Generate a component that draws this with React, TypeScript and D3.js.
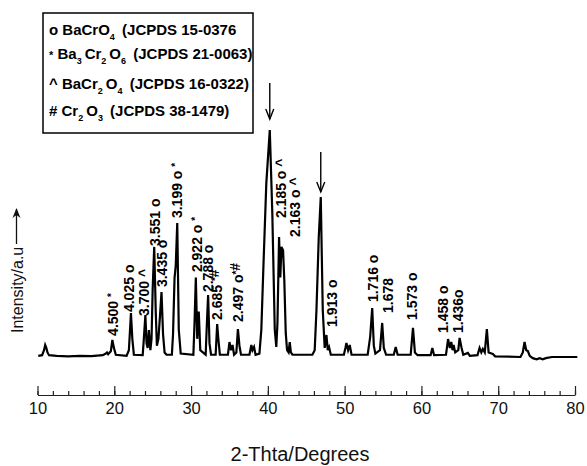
import React, { useRef, useEffect } from 'react';
import * as d3 from 'd3';

// XRD trace: 2-theta (deg) and intensity (a.u., strongest reflection = 100)
const pattern: [number, number][] = [
  [10.1, 0.5], [10.6, 0.8], [10.85, 3], [11.0, 5.3], [11.15, 4], [11.3, 2], [11.5, 0.8],
  [12.5, 0.5], [14, 0.3], [15.5, 0.5], [17, 0.4], [18.5, 0.8], [18.9, 1.5], [19.05, 2],
  [19.2, 1.2], [19.55, 2.5], [19.75, 7.5], [19.95, 4], [20.2, 1], [21.6, 0.5], [21.9, 3],
  [22.05, 12], [22.17, 19.4], [22.35, 8], [22.55, 1], [23.7, 0.8], [23.85, 8], [24.05, 18.5],
  [24.2, 6], [24.35, 4], [24.5, 11.9], [24.7, 3], [24.85, 8], [25.0, 30], [25.2, 48.5],
  [25.4, 20], [25.55, 5], [25.75, 8], [25.95, 18], [26.15, 28.6], [26.35, 10], [26.55, 2],
  [26.8, 1], [27.5, 1], [27.65, 10], [27.85, 35], [28.0, 40], [28.2, 59], [28.4, 12],
  [28.65, 1.5], [30.3, 1], [30.45, 15], [30.62, 35], [30.8, 8], [31.0, 20], [31.2, 3],
  [31.9, 1], [32.05, 14], [32.22, 27.3], [32.4, 6], [32.6, 1], [33.2, 1], [33.4, 14.5],
  [33.55, 8], [33.75, 1], [34.8, 1], [35.0, 6.6], [35.2, 3], [35.4, 5.3], [35.6, 1],
  [35.9, 2], [36.1, 12.3], [36.3, 5], [36.5, 1], [37.6, 1], [37.85, 5.3], [38.0, 3],
  [38.2, 4.4], [38.4, 1], [38.9, 1.5], [39.15, 12], [39.45, 42.7], [39.8, 76.6],
  [40.25, 100], [40.58, 63.4], [40.9, 12], [41.1, 4.4], [41.25, 15], [41.46, 52.9],
  [41.62, 35], [41.77, 48.5], [41.98, 47], [42.14, 34], [42.33, 10.6], [42.5, 3], [42.7, 2],
  [42.85, 6.6], [43.0, 2], [43.2, 1], [45.8, 1], [46.1, 3], [46.33, 20.7], [46.63, 53],
  [46.89, 70.5], [47.15, 20.7], [47.4, 4], [47.63, 9.7], [47.8, 3], [47.97, 4.4], [48.2, 1],
  [49.9, 1], [50.1, 4], [50.23, 6.2], [50.45, 3], [50.66, 5.3], [50.9, 1], [53.0, 1],
  [53.33, 9], [53.59, 21.6], [53.8, 5], [54.0, 1.5], [54.6, 3], [54.89, 15], [55.1, 4],
  [55.4, 1], [56.4, 1], [56.65, 4.4], [56.9, 1], [58.6, 1], [58.9, 12.8], [59.15, 2],
  [59.5, 0.8], [61.2, 0.8], [61.42, 4], [61.65, 0.8], [63.2, 1], [63.47, 7.9], [63.7, 4],
  [63.89, 6.6], [64.05, 3], [64.19, 5.3], [64.4, 2], [64.8, 3], [64.97, 8.4], [65.23, 4],
  [65.45, 1], [66.05, 1.8], [66.3, 0.5], [67.3, 0.8], [67.57, 4], [67.8, 2], [68.0, 3.5],
  [68.25, 2], [68.52, 12.3], [68.75, 2], [69.3, 1.3], [69.6, 0.3], [72.9, 0], [73.2, 2],
  [73.43, 6.6], [73.65, 3], [73.86, 2.6], [74.1, 0.5], [74.5, -0.5], [75.0, -1],
  [75.4, -0.5], [75.8, -1], [76.2, -0.5], [77, 0], [80.3, 0],
];

// d-spacing labels: value, phase marks, 2-theta and intensity where the text starts
const peakLabels = [
  { d: '4.500', mark: ' *', at: 20.47, level: 9.3 },
  { d: '4.025', mark: ' o', at: 22.56, level: 19.8 },
  { d: '3.700', mark: ' ^', at: 24.51, level: 18.1 },
  { d: '3.551', mark: ' o', at: 25.94, level: 48.9 },
  { d: '3.435', mark: ' o', at: 26.85, level: 30.8 },
  { d: '3.199', mark: ' o *', at: 28.8, level: 61.2 },
  { d: '2.922', mark: ' o *', at: 31.4, level: 37.4 },
  { d: '2.788', mark: ' o', at: 32.83, level: 28.6 },
  { d: '2.685', mark: ' *#', at: 34.0, level: 16.3 },
  { d: '2.497', mark: ' o*#', at: 36.74, level: 15.4 },
  { d: '2.185', mark: ' o ^', at: 42.33, level: 61.2 },
  { d: '2.163', mark: ' o ^', at: 44.15, level: 52.9 },
  { d: '1.913', mark: ' o', at: 48.97, level: 13.2 },
  { d: '1.716', mark: ' o', at: 54.3, level: 24.2 },
  { d: '1.678', mark: '', at: 56.25, level: 19.4 },
  { d: '1.573', mark: ' o', at: 59.37, level: 16.3 },
  { d: '1.458', mark: ' o', at: 63.4, level: 10.6 },
  { d: '1.436', mark: 'o', at: 65.36, level: 10.6 },
];

// arrows over the two strongest reflections (2-theta, tail, tip)
const arrowPeaks = [
  { at: 40.25, from: 120.7, to: 104.8 },
  { at: 46.89, from: 90.3, to: 72.7 },
];

// legend rows: [text, kind] with kind '' normal, 'sub' subscript, 'star' small star
const legendRows: [string, string][][] = [
  [['o BaCrO', ''], ['4', 'sub'], [' (JCPDS 15-0376', '']],
  [['*', 'star'], [' Ba', ''], ['3', 'sub'], ['Cr', ''], ['2', 'sub'], ['O', ''], ['6', 'sub'], [' (JCPDS 21-0063)', '']],
  [['^ BaCr', ''], ['2', 'sub'], ['O', ''], ['4', 'sub'], [' (JCPDS 16-0322)', '']],
  [['# Cr', ''], ['2', 'sub'], ['O', ''], ['3', 'sub'], [' (JCPDS 38-1479)', '']],
];

const majorTicks = [10, 20, 30, 40, 50, 60, 70, 80];
const minorTicks = d3.range(10, 81, 2);

const FONT = "Arial, 'Liberation Sans', sans-serif";

const App = () => {
  const svgRef = useRef<SVGSVGElement>(null);

  useEffect(() => {
    const width = 587;
    const height = 466;
    const svg = d3.select(svgRef.current)
      .attr('width', width)
      .attr('height', height);
    svg.selectAll('*').remove();

    const x = d3.scaleLinear().domain([10, 80]).range([37.5, 575]);
    const y = d3.scaleLinear().domain([0, 100]).range([357, 130]);
    const axisY = 395;

    // trace
    const line = d3.line<[number, number]>()
      .x(d => x(d[0]))
      .y(d => y(d[1]));

    svg.append('path')
      .datum(pattern)
      .attr('d', line)
      .attr('fill', 'none')
      .attr('stroke', '#000')
      .attr('stroke-width', 2.2)
      .attr('stroke-linejoin', 'miter');

    // x axis, ticks pointing up
    const gx = svg.append('g')
      .attr('transform', `translate(0,${axisY})`)
      .style('font-family', FONT);

    gx.append('g')
      .call(d3.axisBottom(x).tickValues(minorTicks).tickSizeInner(-4).tickSizeOuter(0).tickFormat(() => ''))
      .call(g => g.select('.domain').attr('stroke', '#222').attr('stroke-width', 1.2));

    gx.append('g')
      .call(d3.axisBottom(x).tickValues(majorTicks).tickSizeInner(-9).tickSizeOuter(0).tickPadding(7).tickFormat(d3.format('d')))
      .call(g => g.select('.domain').remove())
      .call(g => g.selectAll('text').attr('font-size', 16.5).attr('fill', '#111').style('font-family', FONT));

    gx.selectAll('.tick line').attr('stroke', '#222').attr('stroke-width', 1.2);

    svg.append('text')
      .attr('x', 300)
      .attr('y', 461)
      .attr('text-anchor', 'middle')
      .attr('font-size', 20)
      .attr('fill', '#111')
      .style('font-family', FONT)
      .text('2-Thta/Degrees');

    // y label with arrow
    svg.append('text')
      .attr('transform', 'translate(22.5,333) rotate(-90)')
      .attr('font-size', 16)
      .attr('fill', '#111')
      .style('font-family', FONT)
      .text('Intensity/a.u');

    svg.append('line')
      .attr('x1', 16.5).attr('x2', 16.5)
      .attr('y1', 244).attr('y2', 209)
      .attr('stroke', '#111').attr('stroke-width', 1.3);
    svg.append('path')
      .attr('d', 'M12.5,218 L16.5,208 L20.5,218 L16.5,215 Z')
      .attr('fill', '#111');

    // peak labels
    const labels = svg.selectAll('.peak-label')
      .data(peakLabels)
      .enter()
      .append('text')
      .attr('class', 'peak-label')
      .attr('transform', d => `translate(${x(d.at)},${y(d.level)}) rotate(-90)`)
      .attr('font-size', 14)
      .attr('font-weight', 'bold')
      .attr('fill', '#000')
      .style('font-family', FONT);

    labels.append('tspan').text(d => d.d);
    labels.each(function (d) {
      const t = d3.select(this);
      d.mark.split('').forEach(ch => {
        if (ch === '*') {
          t.append('tspan').attr('font-size', 10).attr('dy', -3).text('*');
          t.append('tspan').attr('dy', 3).text('');
        } else {
          t.append('tspan').text(ch === ' ' ? '\u00a0' : ch);
        }
      });
    });

    // arrows
    arrowPeaks.forEach(a => {
      const ax = x(a.at);
      svg.append('line')
        .attr('x1', ax).attr('x2', ax)
        .attr('y1', y(a.from)).attr('y2', y(a.to))
        .attr('stroke', '#000').attr('stroke-width', 1.4);
      svg.append('path')
        .attr('d', `M${ax - 4},${y(a.to) - 10} L${ax},${y(a.to)} L${ax + 4},${y(a.to) - 10}`)
        .attr('fill', 'none')
        .attr('stroke', '#000')
        .attr('stroke-width', 1.4);
    });

    // legend box
    svg.append('rect')
      .attr('x', 43).attr('y', 13)
      .attr('width', 210).attr('height', 120)
      .attr('fill', '#fff')
      .attr('stroke', '#000')
      .attr('stroke-width', 1.5);

    legendRows.forEach((row, i) => {
      const t = svg.append('text')
        .attr('x', 49)
        .attr('y', 34.5 + i * 27)
        .attr('font-size', 15)
        .attr('font-weight', 'bold')
        .attr('fill', '#000')
        .style('font-family', FONT);
      row.forEach(([txt, kind]) => {
        if (kind === 'sub') {
          t.append('tspan').attr('font-size', 9).attr('dy', 5).text(txt);
          t.append('tspan').attr('dy', -5).text('\u2009');
        } else if (kind === 'star') {
          t.append('tspan').attr('font-size', 11).attr('dy', -3).text(txt);
          t.append('tspan').attr('dy', 3).text('');
        } else {
          t.append('tspan').text(txt.replace(/ /g, '\u00a0'));
        }
      });
    });
  }, []);

  return <svg ref={svgRef} style={{ position: 'absolute', left: 0, top: 0, background: '#fff' }}></svg>;
};

export default App;
